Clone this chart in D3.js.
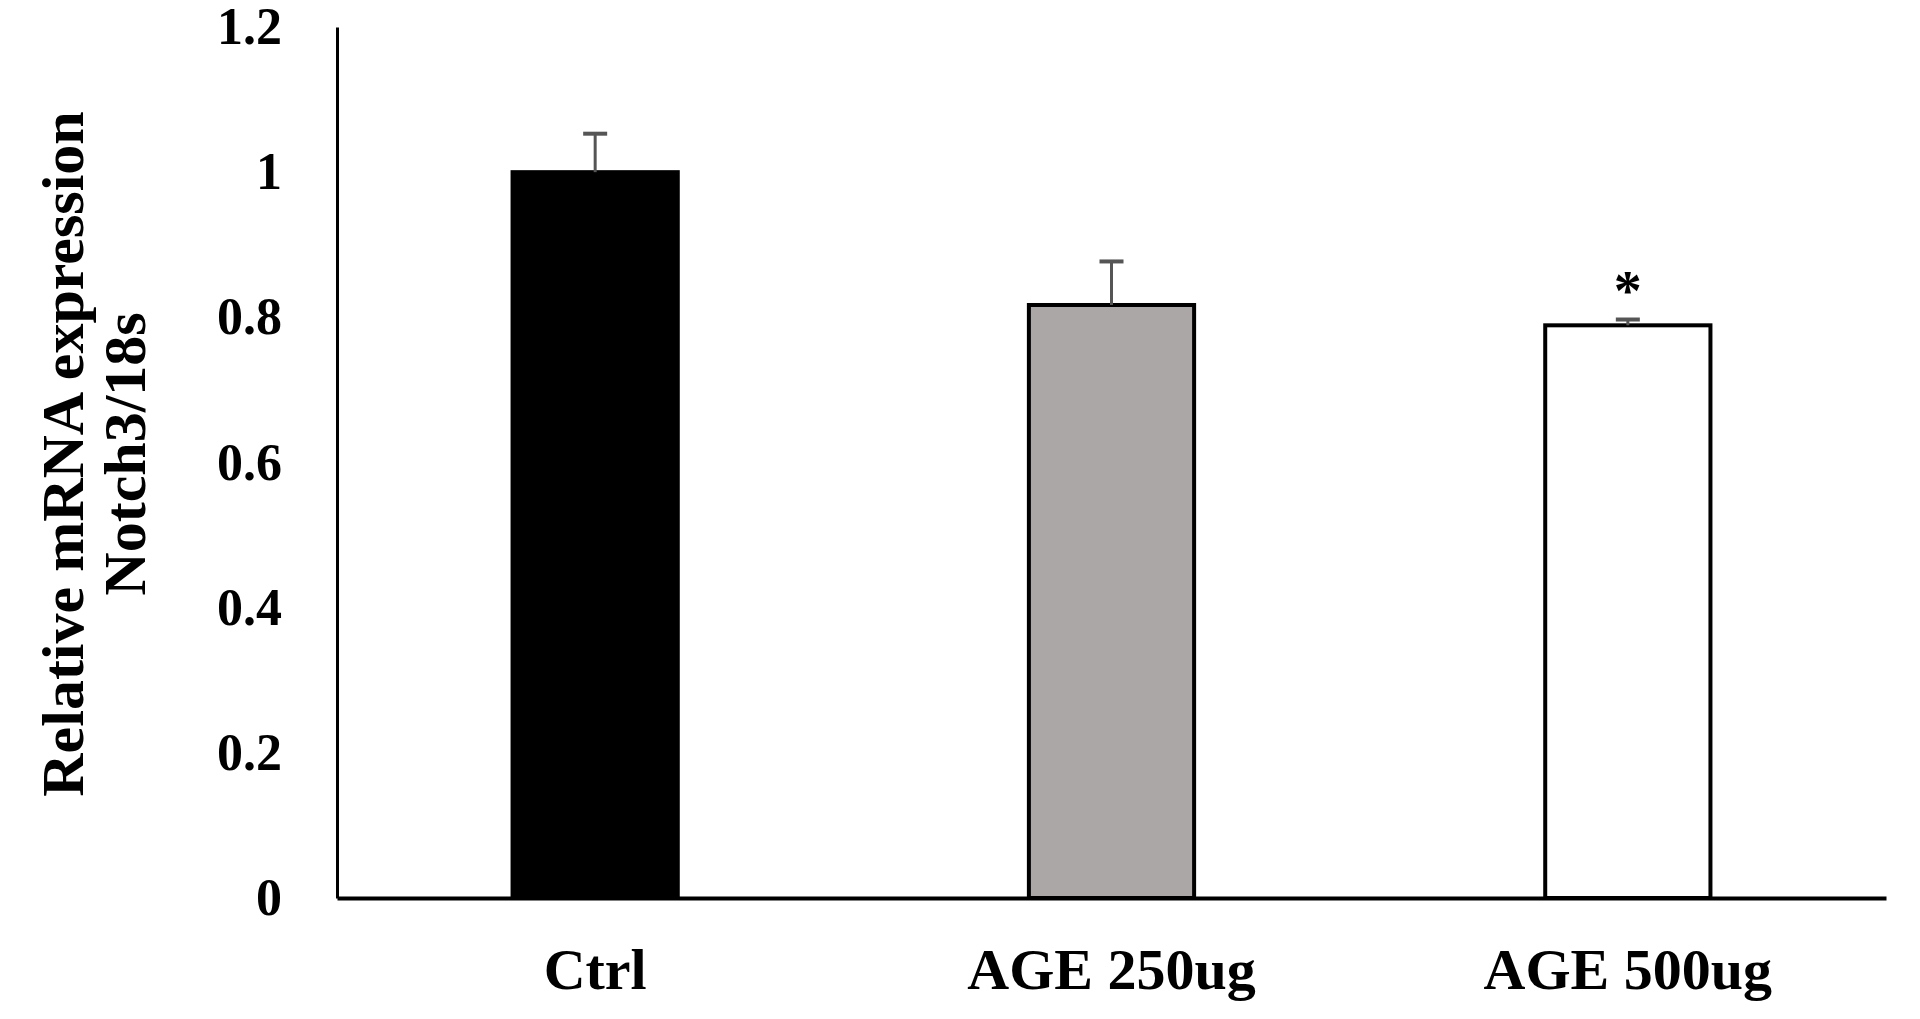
<!DOCTYPE html>
<html lang="en">

<head>
    <meta charset="UTF-8">
    <title>Notch3 expression</title>
    <script src="https://cdn.jsdelivr.net/npm/d3@7"></script>
    <style>
        body { margin: 0; background: #fff; }
        text { font-family: "Liberation Serif", "Times New Roman", serif; font-weight: bold; fill: #000; }
    </style>
</head>

<body>
    <svg width="1920" height="1019" id="mainsvg"></svg>
    <script>
        // data
        const groups = ["Ctrl", "AGE 250ug", "AGE 500ug"];
        const means = [1.0, 0.817, 0.789];
        const errors = [0.053, 0.06, 0.008];
        const marks = ["", "", "*"];
        const fills = ["#000000", "#aba7a6", "#ffffff"];
        const yTicks = [0, 0.2, 0.4, 0.6, 0.8, 1, 1.2];

        const svg = d3.select('#mainsvg');
        const width = +svg.attr('width');
        const height = +svg.attr('height');
        const margin = { top: 27, right: 34, bottom: 121, left: 337 };
        const innerWidth = width - margin.left - margin.right;
        const innerHeight = height - margin.top - margin.bottom;
        const g = svg.append('g').attr('transform', `translate(${margin.left}, ${margin.top})`);

        const data = groups.map((k, i) => ({ key: k, v: means[i], e: errors[i], m: marks[i], fill: fills[i] }));

        const xScale = d3.scaleBand().domain(groups).range([0, innerWidth]).paddingInner(0.68).paddingOuter(0.34);
        const yScale = d3.scaleLinear().domain([0, 1.2]).range([innerHeight, 0]);

        // bars
        g.selectAll('.bar').data(data).join('rect')
            .attr('class', 'bar')
            .attr('x', d => xScale(d.key))
            .attr('y', d => yScale(d.v))
            .attr('width', xScale.bandwidth())
            .attr('height', d => yScale(0) - yScale(d.v))
            .attr('fill', d => d.fill)
            .attr('stroke', '#000')
            .attr('stroke-width', 4);

        // error bars
        const cx = d => xScale(d.key) + xScale.bandwidth() / 2;
        g.selectAll('.err').data(data).join('line')
            .attr('class', 'err')
            .attr('x1', cx).attr('x2', cx)
            .attr('y1', d => yScale(d.v)).attr('y2', d => yScale(d.v + d.e))
            .attr('stroke', '#555').attr('stroke-width', 3);
        g.selectAll('.cap').data(data).join('line')
            .attr('class', 'cap')
            .attr('x1', d => cx(d) - 12).attr('x2', d => cx(d) + 12)
            .attr('y1', d => yScale(d.v + d.e)).attr('y2', d => yScale(d.v + d.e))
            .attr('stroke', '#555').attr('stroke-width', 4);

        // significance marks
        g.selectAll('.sig').data(data.filter(d => d.m)).join('text')
            .attr('class', 'sig')
            .attr('x', cx)
            .attr('y', d => yScale(d.v + d.e) - 10)
            .attr('text-anchor', 'middle')
            .attr('font-size', 56)
            .text(d => d.m);

        // axes
        const yAxis = d3.axisLeft(yScale).tickValues(yTicks).tickSize(0).tickPadding(55).tickFormat(d3.format('~g'));
        const yg = g.append('g').call(yAxis);
        yg.select('.domain').attr('stroke', '#000').attr('stroke-width', 3);
        yg.selectAll('text').attr('font-size', 52).attr('font-family', null);

        const xAxis = d3.axisBottom(xScale).tickSize(0).tickPadding(50);
        const xg = g.append('g').attr('transform', `translate(0, ${innerHeight})`).call(xAxis);
        xg.select('.domain').attr('stroke', '#000').attr('stroke-width', 4);
        xg.selectAll('text').attr('font-size', 58).attr('font-family', null);

        // y title
        const title = svg.append('text')
            .attr('transform', `translate(83, 454) rotate(-90)`)
            .attr('text-anchor', 'middle')
            .attr('font-size', 60);
        title.append('tspan').attr('x', 0).attr('dy', 0).text('Relative mRNA expression');
        title.append('tspan').attr('x', 0).attr('dy', 62).text('Notch3/18s');
    </script>
</body>

</html>
